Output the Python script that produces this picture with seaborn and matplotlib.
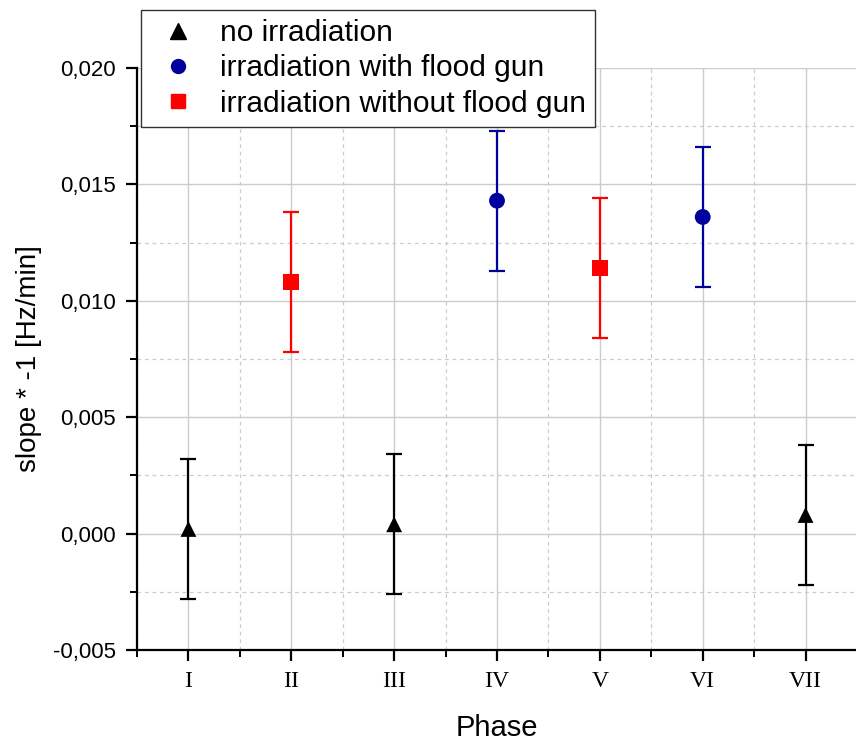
import matplotlib
matplotlib.use("Agg")
import matplotlib.pyplot as plt
import seaborn as sns
import pandas as pd
import numpy as np
from matplotlib.ticker import MultipleLocator, FuncFormatter
from matplotlib.lines import Line2D

phases = ["I", "II", "III", "IV", "V", "VI", "VII"]
slopes = [0.0002, 0.0108, 0.0004, 0.0143, 0.0114, 0.0136, 0.0008]
errors = [0.0030, 0.0030, 0.0030, 0.0030, 0.0030, 0.0030, 0.0030]
groups = ["no irradiation", "irradiation without flood gun", "no irradiation",
          "irradiation with flood gun", "irradiation without flood gun",
          "irradiation with flood gun", "no irradiation"]
group_order = ["no irradiation", "irradiation with flood gun", "irradiation without flood gun"]
colors = {"no irradiation": "#000000",
          "irradiation with flood gun": "#00009c",
          "irradiation without flood gun": "#ff0000"}
markers = {"no irradiation": "^",
           "irradiation with flood gun": "o",
           "irradiation without flood gun": "s"}

df = pd.DataFrame({"pos": np.arange(1, len(phases) + 1), "phase": phases,
                   "slope": slopes, "err": errors, "group": groups})

sns.set_style("white")
plt.rcParams["font.family"] = ["Liberation Sans", "DejaVu Sans"]
plt.rcParams["text.color"] = "black"
plt.rcParams["axes.labelcolor"] = "black"
plt.rcParams["xtick.color"] = "black"
plt.rcParams["ytick.color"] = "black"

fig = plt.figure(figsize=(8.56, 7.42), dpi=100)
ax = fig.add_axes([137 / 856, 1 - 650 / 742, 720 / 856, (650 - 68) / 742])

for g in group_order:
    sub = df[df["group"] == g]
    ax.errorbar(sub["pos"], sub["slope"], yerr=sub["err"], fmt="none",
                ecolor=colors[g], elinewidth=1.6, capsize=6, capthick=1.6, zorder=3)

sns.scatterplot(data=df, x="pos", y="slope", hue="group", style="group",
                hue_order=group_order, style_order=group_order,
                palette=colors, markers=markers, s=130, edgecolor="none",
                ax=ax, zorder=4, legend=False)

ax.set_xlim(0.5, 7.5)
ax.set_ylim(-0.005, 0.020)
ax.xaxis.set_major_locator(MultipleLocator(1))
ax.xaxis.set_minor_locator(MultipleLocator(0.5))
ax.yaxis.set_major_locator(MultipleLocator(0.005))
ax.yaxis.set_minor_locator(MultipleLocator(0.0025))
ax.set_xticks(df["pos"])
ax.set_xticklabels(phases, fontfamily="Liberation Serif", fontsize=17)
ax.yaxis.set_major_formatter(FuncFormatter(lambda v, p: f"{v:.3f}".replace(".", ",").replace("-0,000", "0,000")))
for lab in ax.get_yticklabels():
    lab.set_fontsize(16)

ax.grid(True, which="major", color="#cccccc", linewidth=1.0, linestyle="-")
ax.grid(True, which="minor", color="#cccccc", linewidth=0.9, linestyle=(0, (3, 3)))
ax.set_axisbelow(True)

for side in ["top", "right"]:
    ax.spines[side].set_visible(False)
for side in ["left", "bottom"]:
    ax.spines[side].set_linewidth(1.6)
    ax.spines[side].set_color("black")

ax.tick_params(which="major", direction="out", length=8, width=1.6, color="black",
               left=True, bottom=True, pad=7)
ax.tick_params(which="minor", direction="out", length=5, width=1.4, color="black",
               left=True, bottom=True)

ax.set_xlabel("Phase", fontsize=21, labelpad=16)
ax.set_ylabel("slope * -1 [Hz/min]", fontsize=20, labelpad=8)

handles = [Line2D([], [], linestyle="none", marker=markers[g], color=colors[g],
                  markersize=11 if g == "no irradiation" else 10) for g in group_order]
leg = fig.legend(handles, group_order, loc="upper left",
                 bbox_to_anchor=(141 / 856, 1 - 10 / 742), fontsize=21.5,
                 frameon=True, fancybox=False, edgecolor="#333333", framealpha=1,
                 handletextpad=0.47, borderpad=0.3, labelspacing=0.25, handlelength=1.87,
                 borderaxespad=0)
leg.get_frame().set_linewidth(1.0)

fig.savefig("out.png", dpi=100)
